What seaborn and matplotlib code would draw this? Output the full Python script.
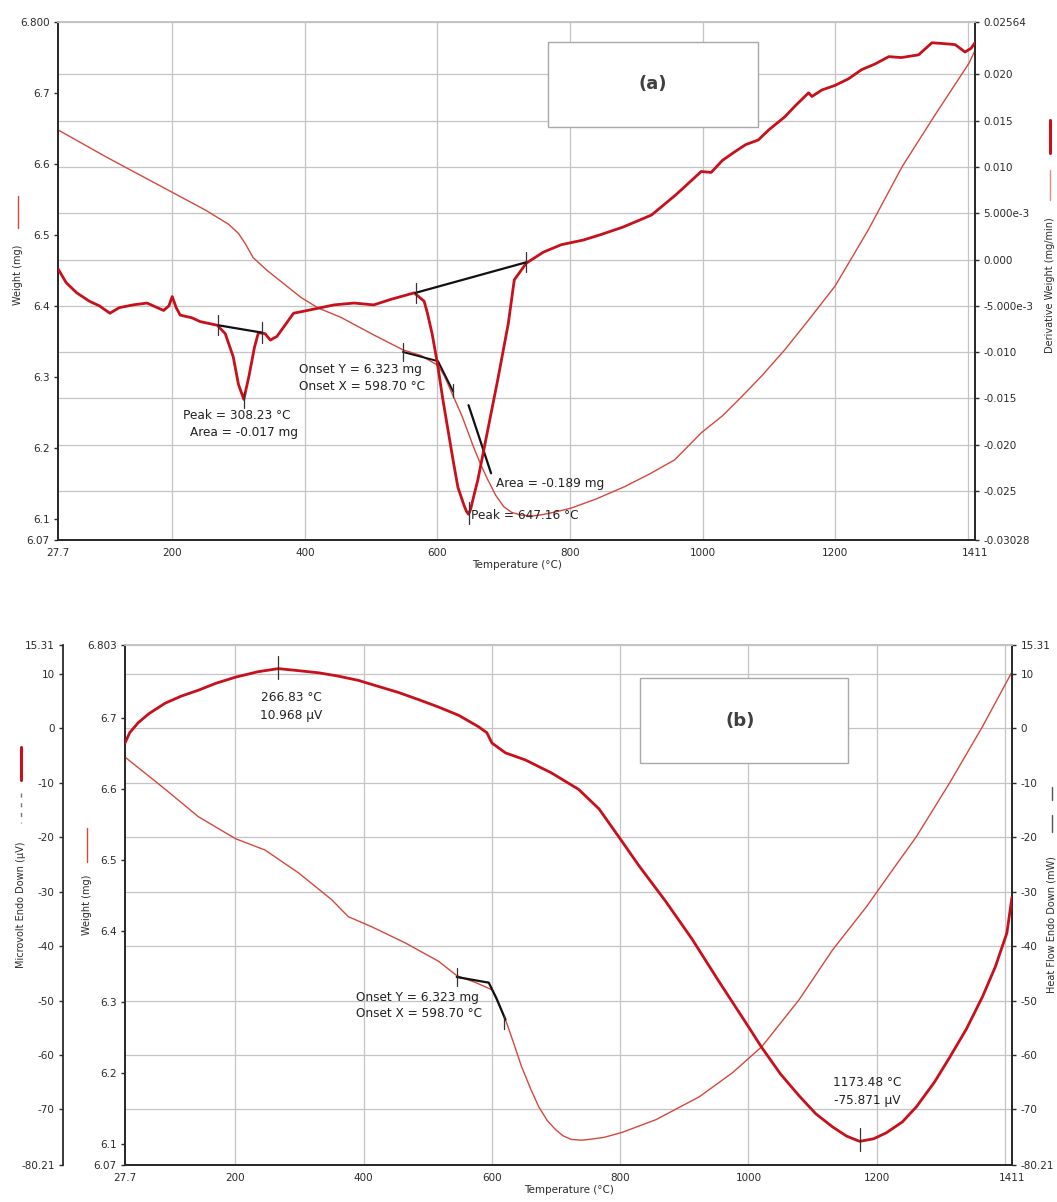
import matplotlib
matplotlib.use('Agg')
import numpy as np
import pandas as pd
import matplotlib.pyplot as plt
from matplotlib.lines import Line2D
from matplotlib.patches import Rectangle
import seaborn as sns

# ---------------- panel (a): TGA weight + derivative weight ----------------
temp_a_wt = [27.7, 100, 150, 200, 250, 285, 300, 310, 322, 343, 394, 420, 454, 504, 548,
             575, 601, 610, 620, 637, 655, 666, 676, 688, 700, 712, 726, 745, 760, 780,
             802, 840, 882, 920, 958, 998, 1030, 1059, 1090, 1124, 1160, 1200, 1250, 1301,
             1350, 1402, 1411]
weight_a = [6.648, 6.610, 6.585, 6.560, 6.535, 6.515, 6.502, 6.488, 6.468, 6.450, 6.412,
            6.397, 6.384, 6.359, 6.338, 6.330, 6.316, 6.302, 6.281, 6.245, 6.200, 6.175,
            6.155, 6.133, 6.117, 6.109, 6.105, 6.104, 6.106, 6.110, 6.115, 6.128, 6.145,
            6.163, 6.183, 6.221, 6.245, 6.272, 6.302, 6.338, 6.380, 6.428, 6.507, 6.596,
            6.668, 6.742, 6.760]

temp_a_dtg = [27.7, 40, 56, 75, 90, 106, 120, 141, 162, 187, 195, 200, 206, 212, 230, 242,
              268, 280, 292, 300, 308, 316, 324, 330, 340, 348, 358, 368, 383, 404, 424,
              444, 474, 504, 530, 565, 580, 585, 592, 600, 608, 616, 624, 631, 640, 644,
              647, 650, 654, 661, 676, 691, 707, 716, 734, 760, 787, 820, 847, 880, 923,
              960, 998, 1013, 1030, 1048, 1065, 1084, 1100, 1124, 1140, 1160, 1165, 1180,
              1200, 1220, 1240, 1260, 1281, 1300, 1326, 1346, 1365, 1381, 1396, 1405, 1411]
dtg_a = [-0.0010, -0.0025, -0.0036, -0.0045, -0.0050, -0.0058, -0.0052, -0.0049, -0.0047,
         -0.0055, -0.0050, -0.0040, -0.0052, -0.0060, -0.0063, -0.0067, -0.0071, -0.0080,
         -0.0105, -0.0135, -0.0151, -0.0125, -0.0095, -0.0079, -0.0080, -0.0087, -0.0083,
         -0.0073, -0.0058, -0.0055, -0.0052, -0.0049, -0.0047, -0.0049, -0.0043, -0.0036,
         -0.0045, -0.0058, -0.0080, -0.0112, -0.0150, -0.0184, -0.0218, -0.0246, -0.0265,
         -0.0272, -0.0275, -0.0270, -0.0258, -0.0238, -0.0184, -0.0130, -0.0069, -0.0022,
         -0.0004, 0.0008, 0.0016, 0.0021, 0.0027, 0.0035, 0.0048, 0.0070, 0.0095, 0.0094,
         0.0107, 0.0116, 0.0124, 0.0129, 0.0140, 0.0154, 0.0166, 0.0180, 0.0176, 0.0183,
         0.0188, 0.0195, 0.0205, 0.0211, 0.0219, 0.0218, 0.0221, 0.0234, 0.0233, 0.0232,
         0.0224, 0.0228, 0.0234]

# ---------------- panel (b): TGA weight + DTA signal ----------------
temp_b_wt = [27.7, 90, 142, 200, 246, 298, 350, 376, 412, 465, 517, 545, 575, 600, 610,
             621, 633, 646, 660, 673, 686, 699, 711, 724, 740, 751, 775, 803, 856, 923,
             975, 1021, 1079, 1131, 1184, 1220, 1262, 1314, 1365, 1411]
weight_b = [6.645, 6.600, 6.561, 6.530, 6.514, 6.482, 6.444, 6.420, 6.406, 6.383, 6.357,
            6.337, 6.327, 6.317, 6.298, 6.275, 6.244, 6.209, 6.178, 6.152, 6.133, 6.120,
            6.111, 6.106, 6.105, 6.106, 6.109, 6.116, 6.134, 6.166, 6.200, 6.237, 6.303,
            6.373, 6.434, 6.480, 6.533, 6.609, 6.688, 6.765]

temp_b_dta = [27.7, 35, 48, 65, 90, 115, 142, 170, 200, 235, 266.8, 298, 330, 360, 392,
              420, 454, 485, 517, 548, 579, 592, 600, 621, 652, 693, 735, 767, 800, 829,
              871, 912, 954, 1001, 1020, 1050, 1079, 1105, 1131, 1153, 1173.5, 1195, 1215,
              1240, 1262, 1290, 1314, 1340, 1365, 1385, 1403, 1411]
dta_b = [-2.7, -0.8, 1.0, 2.7, 4.6, 5.9, 7.0, 8.3, 9.4, 10.4, 10.97, 10.6, 10.2, 9.6, 8.8,
         7.8, 6.6, 5.3, 3.9, 2.4, 0.3, -0.8, -2.7, -4.5, -5.8, -8.2, -11.2, -14.8, -20.3,
         -25.2, -31.8, -38.7, -46.5, -55.0, -58.5, -63.5, -67.5, -70.8, -73.2, -74.9,
         -75.87, -75.4, -74.3, -72.3, -69.5, -65.0, -60.4, -55.2, -49.3, -43.8, -37.6,
         -31.0]

# ticks
xticks = [27.7, 200, 400, 600, 800, 1000, 1200, 1411]
xtick_labels = ['27.7', '200', '400', '600', '800', '1000', '1200', '1411']
wt_a_ticks = [6.07, 6.1, 6.2, 6.3, 6.4, 6.5, 6.6, 6.7, 6.8]
wt_a_labels = ['6.07', '6.1', '6.2', '6.3', '6.4', '6.5', '6.6', '6.7', '6.800']
dtg_ticks = [-0.03028, -0.025, -0.020, -0.015, -0.010, -0.005, 0.0, 0.005, 0.010, 0.015,
             0.020, 0.02564]
dtg_labels = ['-0.03028', '-0.025', '-0.020', '-0.015', '-0.010', '-5.000e-3', '0.000',
              '5.000e-3', '0.010', '0.015', '0.020', '0.02564']
wt_b_ticks = [6.07, 6.1, 6.2, 6.3, 6.4, 6.5, 6.6, 6.7, 6.803]
wt_b_labels = ['6.07', '6.1', '6.2', '6.3', '6.4', '6.5', '6.6', '6.7', '6.803']
uv_ticks = [-80.21, -70, -60, -50, -40, -30, -20, -10, 0, 10, 15.31]
uv_labels = ['-80.21', '-70', '-60', '-50', '-40', '-30', '-20', '-10', '0', '10', '15.31']

# annotation marks (tangents / baselines)
a_base1_t, a_base1_v = [269.6, 336], [-0.0071, -0.0079]
a_base2_t, a_base2_v = [567, 734], [-0.0036, -0.0003]
a_onset_t, a_onset_w = [548, 601, 624], [6.335, 6.322, 6.279]
a_infl_t, a_infl_w = [647, 681], [6.260, 6.164]
b_onset_t, b_onset_w = [545, 595, 607, 621], [6.335, 6.327, 6.305, 6.275]

sns.set_style('white')
plt.rcParams['font.family'] = ['DejaVu Sans']

THICK = '#c8101a'
THIN = '#d5483c'
GRID = '#c4c4c4'
SPINE = '#2a2a2a'
TXT = '#222222'

fig = plt.figure(figsize=(10.57, 12.02), dpi=100)


def fy(y):
    return 1 - y / 1202.0


def style_axis(ax):
    ax.tick_params(axis='both', which='both', direction='out', length=3, width=1,
                   labelsize=7.5, colors=SPINE, pad=3)
    for s in ax.spines.values():
        s.set_color(SPINE)
        s.set_linewidth(1.3)


# ===================== panel (a) =====================
ax_a = fig.add_axes([58 / 1057, fy(540), 917 / 1057, 518 / 1202])
ax_a2 = ax_a.twinx()
ax_a.set_xlim(27.7, 1411)
ax_a.set_ylim(6.07, 6.8)
ax_a2.set_ylim(-0.03028, 0.02564)

# grid: vertical at temperature ticks, horizontal at derivative ticks
for t in xticks[1:-1] + [1400]:
    ax_a.axvline(t, color=GRID, lw=0.9, zorder=0)
for v in dtg_ticks[1:]:
    w = 6.07 + (v + 0.03028) / 0.05592 * 0.73
    ax_a.axhline(w, color=GRID, lw=0.9, zorder=0)

df_a_wt = pd.DataFrame({'T': temp_a_wt, 'W': weight_a})
df_a_dtg = pd.DataFrame({'T': temp_a_dtg, 'D': dtg_a})
sns.lineplot(data=df_a_wt, x='T', y='W', ax=ax_a, color=THIN, lw=1.0, zorder=3)
sns.lineplot(data=df_a_dtg, x='T', y='D', ax=ax_a2, color=THICK, lw=2.0, zorder=3)

# analysis marks
ax_a2.plot(a_base1_t, a_base1_v, color='#111', lw=1.6, zorder=4)
ax_a2.plot(a_base2_t, a_base2_v, color='#111', lw=1.6, zorder=4)
for t, v in zip(a_base1_t + a_base2_t, a_base1_v + a_base2_v):
    ax_a2.plot([t, t], [v - 0.0011, v + 0.0011], color='#333', lw=0.9, zorder=4)
ax_a2.plot([308.2, 308.2], [-0.0160, -0.0143], color='#333', lw=0.9, zorder=4)
ax_a2.plot([647.2, 647.2], [-0.0286, -0.0262], color='#333', lw=0.9, zorder=4)
ax_a.plot(a_onset_t, a_onset_w, color='#111', lw=1.4, zorder=4)
ax_a.plot([548, 548], [6.322, 6.348], color='#333', lw=0.9, zorder=4)
ax_a.plot([624, 624], [6.272, 6.290], color='#333', lw=0.9, zorder=4)
ax_a.plot(a_infl_t, a_infl_w, color='#111', lw=1.6, zorder=4)

fs = 8.7
ax_a.text(216.7, 6.246, 'Peak = 308.23 °C', fontsize=fs, color=TXT, va='center')
ax_a.text(227, 6.222, 'Area = -0.017 mg', fontsize=fs, color=TXT, va='center')
ax_a.text(390.6, 6.310, 'Onset Y = 6.323 mg', fontsize=fs, color=TXT, va='center')
ax_a.text(390.6, 6.286, 'Onset X = 598.70 °C', fontsize=fs, color=TXT, va='center')
ax_a.text(688.5, 6.150, 'Area = -0.189 mg', fontsize=fs, color=TXT, va='center')
ax_a.text(650.7, 6.105, 'Peak = 647.16 °C', fontsize=fs, color=TXT, va='center')

ax_a2.add_patch(Rectangle((0.534, 0.797), 0.229, 0.164, transform=ax_a2.transAxes,
                          facecolor='white', edgecolor='#a8a8a8', lw=1.0, zorder=6))
ax_a2.text(0.649, 0.880, '(a)', transform=ax_a2.transAxes, fontsize=13, fontweight='bold',
           color='#404040', ha='center', va='center', zorder=7)

ax_a.set_xticks(xticks)
ax_a.set_xticklabels(xtick_labels)
ax_a.set_yticks(wt_a_ticks)
ax_a.set_yticklabels(wt_a_labels)
ax_a2.set_yticks(dtg_ticks)
ax_a2.set_yticklabels(dtg_labels)
ax_a.set_xlabel('Temperature (°C)', fontsize=7.5, labelpad=1, color=SPINE)
ax_a.set_ylabel('')
ax_a2.set_ylabel('')
for ax in (ax_a, ax_a2):
    style_axis(ax)
    ax.spines['top'].set_color(GRID)

# ===================== panel (b) =====================
ax_b = fig.add_axes([125 / 1057, fy(1165), 887 / 1057, 520 / 1202])
ax_b2 = ax_b.twinx()
ax_b3 = ax_b.twinx()
ax_b.set_xlim(27.7, 1411)
ax_b.set_ylim(6.07, 6.803)
ax_b2.set_ylim(-80.21, 15.31)
ax_b3.set_ylim(-80.21, 15.31)

for t in xticks[1:-1] + [1400]:
    ax_b.axvline(t, color=GRID, lw=0.9, zorder=0)
for v in uv_ticks[1:]:
    w = 6.07 + (v + 80.21) / 95.52 * 0.733
    ax_b.axhline(w, color=GRID, lw=0.9, zorder=0)

df_b_wt = pd.DataFrame({'T': temp_b_wt, 'W': weight_b})
df_b_dta = pd.DataFrame({'T': temp_b_dta, 'U': dta_b})
sns.lineplot(data=df_b_wt, x='T', y='W', ax=ax_b, color=THIN, lw=1.0, zorder=3)
sns.lineplot(data=df_b_dta, x='T', y='U', ax=ax_b2, color=THICK, lw=2.0, zorder=3)

ax_b.plot(b_onset_t, b_onset_w, color='#111', lw=1.6, zorder=4)
ax_b.plot([545, 545], [6.322, 6.348], color='#333', lw=0.9, zorder=4)
ax_b.plot([619, 619], [6.262, 6.282], color='#333', lw=0.9, zorder=4)
ax_b2.plot([266.8, 266.8], [9.0, 13.2], color='#333', lw=0.9, zorder=4)
ax_b2.plot([1173.5, 1173.5], [-77.6, -73.4], color='#333', lw=0.9, zorder=4)

ax_b2.text(287, 5.6, '266.83 °C', fontsize=fs, color=TXT, ha='center', va='center')
ax_b2.text(287, 2.4, '10.968 μV', fontsize=fs, color=TXT, ha='center', va='center')
ax_b2.text(1185, -65.1, '1173.48 °C', fontsize=fs, color=TXT, ha='center', va='center')
ax_b2.text(1185, -68.3, '-75.871 μV', fontsize=fs, color=TXT, ha='center', va='center')
ax_b.text(388.6, 6.306, 'Onset Y = 6.323 mg', fontsize=fs, color=TXT, va='center')
ax_b.text(388.6, 6.283, 'Onset X = 598.70 °C', fontsize=fs, color=TXT, va='center')

ax_b2.add_patch(Rectangle((0.581, 0.773), 0.2345, 0.164, transform=ax_b2.transAxes,
                          facecolor='white', edgecolor='#a8a8a8', lw=1.0, zorder=6))
ax_b2.text(0.693, 0.854, '(b)', transform=ax_b2.transAxes, fontsize=13, fontweight='bold',
           color='#404040', ha='center', va='center', zorder=7)

ax_b.set_xticks(xticks)
ax_b.set_xticklabels(xtick_labels)
ax_b.set_yticks(wt_b_ticks)
ax_b.set_yticklabels(wt_b_labels)
ax_b2.set_yticks(uv_ticks)
ax_b2.set_yticklabels(uv_labels)
ax_b3.set_yticks(uv_ticks)
ax_b3.set_yticklabels(uv_labels)
ax_b3.yaxis.tick_left()
ax_b3.spines['left'].set_position(('axes', -62 / 887))
ax_b.set_xlabel('Temperature (°C)', fontsize=7.5, labelpad=1, color=SPINE)
for ax in (ax_b, ax_b2, ax_b3):
    ax.set_ylabel('')
    style_axis(ax)
ax_b.spines['top'].set_color(GRID)
ax_b2.spines['top'].set_color(GRID)
for s in ('top', 'right', 'bottom'):
    ax_b3.spines[s].set_visible(False)

# ===================== axis titles with line samples =====================
def vline(x, y0, y1, color, lw, ls='-'):
    fig.add_artist(Line2D([x / 1057, x / 1057], [fy(y0), fy(y1)], color=color, lw=lw,
                          ls=ls, transform=fig.transFigure))


def vlabel(x, y, s):
    fig.text(x / 1057, fy(y), s, rotation=90, fontsize=7, color=SPINE,
             ha='center', va='center')


vline(18, 196, 228, THIN, 1.0)
vlabel(18, 275, 'Weight (mg)')
vline(1050, 120, 153, THICK, 2.2)
vline(1050, 170, 200, '#e08a84', 1.0)
vlabel(1050, 285, 'Derivative Weight (mg/min)')

vline(21, 747, 780, THICK, 2.2)
vline(21, 793, 823, '#777', 1.0, ls=(0, (3, 4)))
vlabel(21, 905, 'Microvolt Endo Down (μV)')
vline(87, 828, 862, THIN, 1.0)
vlabel(87, 905, 'Weight (mg)')
vline(1052, 787, 800, '#555', 1.0)
vline(1052, 815, 832, '#555', 1.0)
vlabel(1052, 925, 'Heat Flow Endo Down (mW)')

fig.savefig('out.png', dpi=100)
